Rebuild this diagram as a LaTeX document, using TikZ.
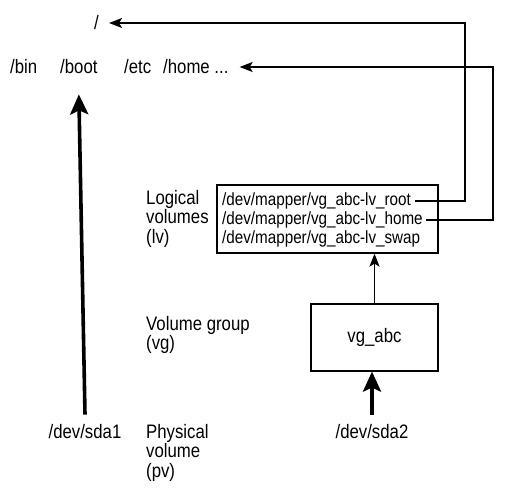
\documentclass[tikz,border=0pt]{standalone}
\usepackage{fontspec}
\setmainfont{Liberation Sans}[FakeStretch=0.86]
\usetikzlibrary{arrows.meta}
\begin{document}
\begin{tikzpicture}[x=1pt,y=-1pt,
  lbl/.style={inner sep=0pt,font=\fontsize{19.5}{19.5}\selectfont},
  toplbl/.style={inner sep=0pt,anchor=west,font=\fontsize{19.5}{19.5}\selectfont},
  side/.style={inner sep=0pt,anchor=north west,align=left,font=\fontsize{19.5}{19.5}\selectfont},
  lvtxt/.style={inner sep=0pt,anchor=west,font=\fontsize{17.7}{19.5}\selectfont},
  box/.style={draw,line width=1.2pt,inner sep=0pt},
  thinarrow/.style={line width=1.8pt,-{Stealth[length=13pt,width=10pt,inset=3pt]}},
  thickarrow/.style={line width=3.6pt,-{Stealth[length=20pt,width=18pt,inset=4pt]}}]
\useasboundingbox (0,0) rectangle (525,495);
% top level
\node[toplbl] (rootdir) at (94,23) {/};
\node[toplbl] (bin) at (10,67) {/bin};
\node[toplbl] (boot) at (60,67) {/boot};
\node[toplbl] (etc) at (124,67) {/etc};
\node[toplbl] (home) at (163,67) {/home ...};
% side labels
\node[side] (lvlabel) at (146,190) {Logical\\volumes\\(lv)};
\node[side] (vglabel) at (146,316) {Volume group\\(vg)};
\node[side] (pvlabel) at (146,424) {Physical\\volume\\(pv)};
% boxes
\node[box,minimum width=221pt,minimum height=68pt] (lvbox) at (327.5,219) {};
\node[lvtxt] (lvroot) at (222,201) {/dev/mapper/vg\_abc-lv\_root};
\node[lvtxt] (lvhome) at (222,220) {/dev/mapper/vg\_abc-lv\_home};
\node[lvtxt] (lvswap) at (222,239) {/dev/mapper/vg\_abc-lv\_swap};
\node[box,minimum width=127pt,minimum height=67pt,font=\fontsize{19.5}{19.5}\selectfont] (vgbox) at (374.5,337.5) {vg\_abc};
% devices
\node[lbl] (sda1) at (85,432) {/dev/sda1};
\node[lbl] (sda2) at (372,432) {/dev/sda2};
% connectors
\draw[thickarrow] ([yshift=10pt]sda1.north) -- ([yshift=-20pt]boot.south);
\draw[thickarrow] ([yshift=10pt]sda2.north) -- (vgbox.south -| sda2.north);
\draw[thinarrow] (vgbox.north) -- (lvbox.south -| vgbox.north);
\draw[thinarrow] ([xshift=4pt]lvroot.east) -| (465,23) -- ([xshift=10pt]rootdir.east);
\draw[thinarrow] ([xshift=3pt]lvhome.east) -| (493,67) -- ([xshift=11pt]home.east);
\end{tikzpicture}
\end{document}
